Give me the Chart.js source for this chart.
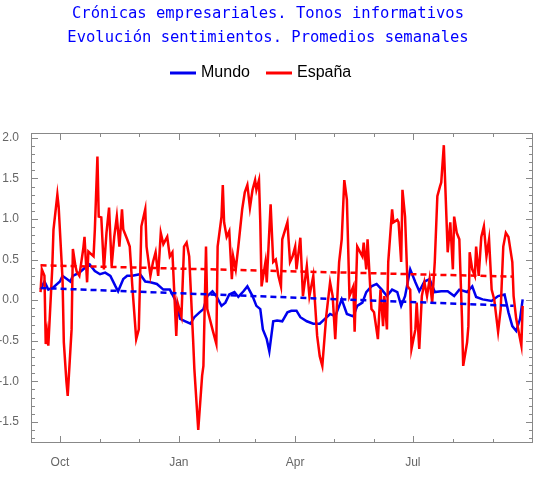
<!DOCTYPE html>
<html><head><meta charset="utf-8">
<script src="https://cdn.jsdelivr.net/npm/chart.js@4"></script>
<style>html,body{margin:0;padding:0;background:#fff}#w{width:534px;height:497px}</style>
</head><body><div id="w"><canvas id="c"></canvas></div>
<script>
// days counted from 1 October
const titleLines = ["Crónicas empresariales. Tonos informativos","Evolución sentimientos. Promedios semanales"];
const monthStarts = [-30,0,31,61,92,123,151,182,212,243,273,304,335];
const monthLabels = {0:"Oct",92:"Jan",182:"Apr",273:"Jul"};
const yTicks = [-1.5,-1.0,-0.5,0.0,0.5,1.0,1.5,2.0];

const espanaDays = [-15,-14,-12,-11,-10,-9,-6,-5,-2,-1,2,3,5,6,9,10,12,13,15,18,19,21,22,26,27,29,30,32,34,36,38,40,42,44,46,48,49,52,54,56,59,61,63,66,67,70,72,74,76,78,80,83,85,87,90,91,94,96,98,100,103,104,107,110,111,113,114,118,121,122,125,126,127,129,131,133,134,136,138,141,143,145,147,149,151,152,154,155,156,159,160,163,165,167,169,171,172,176,178,180,182,183,186,188,191,193,196,199,201,203,206,209,211,213,216,218,220,222,224,227,228,230,234,235,237,238,241,243,246,248,250,251,253,254,257,258,261,262,264,265,267,269,271,272,275,276,278,280,282,284,286,288,290,292,294,295,297,299,300,302,304,305,307,309,311,312,315,316,317,319,321,322,324,326,328,330,332,334,336,339,341,343,345,347,350,351,353,357,358];
const espanaVals = [0.1,0.38,0.3,-0.54,-0.4,-0.56,0.38,0.87,1.3,1.15,0.26,-0.52,-1.0,-1.18,-0.36,0.63,0.42,0.35,0.3,0.63,0.78,0.22,0.6,0.54,0.87,1.77,1.03,1.02,0.38,0.83,1.14,0.42,0.78,1.03,0.66,1.12,0.87,0.75,0.66,0.17,-0.48,-0.36,0.91,1.12,0.66,0.3,0.47,0.59,0.3,0.83,0.69,0.78,0.54,0.59,-0.44,-0.03,-0.2,0.66,0.71,0.54,-0.48,-0.85,-1.6,-0.93,-0.81,0.66,-0.11,-0.36,-0.54,0.66,1.03,1.42,0.96,0.78,0.85,0.26,0.54,0.38,0.66,1.12,1.33,1.42,1.14,1.36,1.48,1.36,1.48,0.96,0.17,0.47,0.22,1.18,0.47,0.5,0.3,0.17,0.75,0.96,0.47,0.54,0.66,0.38,0.77,0.05,0.42,0.05,0.3,-0.44,-0.69,-0.81,-0.2,0.22,0.05,-0.48,0.47,0.75,1.48,1.24,0.05,0.17,-0.39,0.66,0.54,0.71,0.38,0.75,-0.11,-0.15,-0.48,0.13,-0.32,0.05,-0.36,0.47,1.12,0.96,0.99,0.96,0.47,1.36,1.03,0.17,0.13,-0.6,-0.36,-0.03,-0.6,0.05,0.22,0.05,0.26,-0.03,0.47,1.28,1.4,1.45,1.91,1.03,0.59,0.96,0.38,1.03,0.83,0.75,-0.2,-0.81,-0.52,-0.32,0.59,0.38,0.3,0.66,0.3,0.78,0.91,0.54,0.75,0.13,0.01,-0.39,-0.11,0.66,0.83,0.78,0.47,0.05,-0.23,-0.56,-0.07];

const mundoDays = [-15,-12,-9,-5,0,2,8,10,15,21,23,27,31,35,39,43,45,49,52,56,62,66,70,75,80,85,89,93,97,101,104,108,111,114,118,121,125,128,131,135,138,142,145,149,152,155,157,160,162,165,168,172,176,179,183,186,191,196,201,205,209,213,218,222,227,230,234,237,241,245,249,253,257,261,264,267,271,275,278,282,286,290,295,300,305,309,315,319,322,327,334,339,344,347,350,353,356,358];
const mundoVals = [0.13,0.23,0.13,0.16,0.23,0.3,0.23,0.3,0.34,0.42,0.44,0.36,0.32,0.34,0.3,0.17,0.11,0.26,0.3,0.3,0.32,0.23,0.22,0.2,0.13,0.13,0.01,-0.23,-0.26,-0.29,-0.21,-0.15,-0.11,0.05,0.11,0.05,-0.07,-0.03,0.07,0.1,0.04,0.11,0.17,0.05,-0.07,-0.11,-0.36,-0.48,-0.63,-0.26,-0.25,-0.26,-0.15,-0.13,-0.13,-0.21,-0.26,-0.29,-0.29,-0.23,-0.17,-0.2,0.01,-0.17,-0.2,-0.07,-0.03,0.1,0.17,0.2,0.13,0.05,0.13,0.1,-0.07,0.05,0.38,0.22,0.11,0.23,0.26,0.1,0.11,0.11,0.05,0.13,0.1,0.17,0.04,0.01,-0.01,0.05,0.07,-0.15,-0.32,-0.38,-0.23,0.01];

const trendDays = [-15,351];
const espanaTrend = [0.43,0.29];
const mundoTrend = [0.15,-0.07];

const pts = (d,v)=>d.map((x,i)=>({x:x,y:v[i]}));
const RED='#ff0000', BLUE='#0000ee', GRAY='#666';

const deco = {
  id:'deco',
  afterDraw(ch){
    const c=ch.ctx, a=ch.chartArea, xs=ch.scales.x, ys=ch.scales.y;
    c.save();
    c.fillStyle='#0000ff'; c.font='15.5px "DejaVu Sans Mono", monospace'; c.textAlign='center'; c.textBaseline='middle';
    c.fillText(titleLines[0],268,14); c.fillText(titleLines[1],268,38);
    // legend
    c.font='16px "Liberation Sans", Arial, sans-serif'; c.textAlign='left'; c.fillStyle='#000';
    const items=[[ch.data.datasets[0],170],[ch.data.datasets[1],266]];
    items.forEach(([ds,x])=>{c.strokeStyle=ds.borderColor;c.lineWidth=3;c.beginPath();c.moveTo(x,73);c.lineTo(x+26,73);c.stroke();c.fillText(ds.label,x+31,73);});
    // frame & ticks
    c.strokeStyle='#888'; c.lineWidth=1;
    c.strokeRect(a.left+0.5,a.top+0.5,a.right-a.left-1,a.bottom-a.top-1);
    c.beginPath();
    monthStarts.forEach(d=>{const p=Math.round(xs.getPixelForValue(d))+0.5; if(p<a.left||p>a.right)return; const L=monthLabels[d]!==undefined?7:4;
      c.moveTo(p,a.bottom);c.lineTo(p,a.bottom-L);c.moveTo(p,a.top);c.lineTo(p,a.top+L);});
    for(let k=-17;k<=20;k++){const v=k/10;const p=Math.round(ys.getPixelForValue(v))+0.5; if(p<a.top||p>a.bottom)continue; const L=(k%5===0)?7:4;
      c.moveTo(a.left,p);c.lineTo(a.left+L,p);c.moveTo(a.right,p);c.lineTo(a.right-L,p);}
    c.stroke();
    c.restore();
  }
};

new Chart(document.getElementById('c'),{
  type:'line',
  data:{datasets:[
    {label:'Mundo',data:pts(mundoDays,mundoVals),borderColor:BLUE,borderWidth:2.5,pointRadius:0,tension:0,order:2},
    {label:'España',data:pts(espanaDays,espanaVals),borderColor:RED,borderWidth:2.5,pointRadius:0,tension:0,order:1},
    {label:'tm',data:pts(trendDays,mundoTrend),borderColor:BLUE,borderWidth:2.5,borderDash:[6,4],pointRadius:0,order:0},
    {label:'te',data:pts(trendDays,espanaTrend),borderColor:RED,borderWidth:2.5,borderDash:[6,4],pointRadius:0,order:0}
  ]},
  options:{
    responsive:true,maintainAspectRatio:false,animation:false,
    layout:{padding:{top:133,right:1,left:0,bottom:0}},
    plugins:{legend:{display:false},title:{display:false},tooltip:{enabled:false}},
    scales:{
      x:{type:'linear',min:-22.4,max:366,grid:{display:false},border:{display:false},
        afterBuildTicks:s=>{s.ticks=Object.keys(monthLabels).map(k=>({value:+k}));},
        ticks:{autoSkip:false,maxRotation:0,padding:4,color:GRAY,font:{size:12,family:'"Liberation Sans", Arial, sans-serif'},callback:v=>monthLabels[v]||''},
        afterFit:s=>{s.height=54;}},
      y:{min:-1.76,max:2.06,grid:{display:false},border:{display:false},
        afterBuildTicks:s=>{s.ticks=yTicks.map(v=>({value:v}));},
        ticks:{autoSkip:false,padding:4,color:GRAY,font:{size:12,family:'"Liberation Sans", Arial, sans-serif'},callback:v=>v.toFixed(1)},
        afterFit:s=>{s.width=31;}}
    }
  },
  plugins:[deco]
});
</script></body></html>
